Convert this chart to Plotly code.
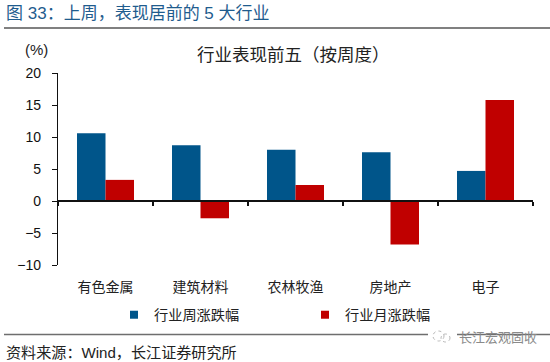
import plotly.graph_objects as go

categories = ["有色金属", "建筑材料", "农林牧渔", "房地产", "电子"]
weekly = [10.6, 8.7, 8.0, 7.6, 4.7]
monthly = [3.3, -2.7, 2.5, -6.8, 15.8]
weekly_name = "行业周涨跌幅"
monthly_name = "行业月涨跌幅"
y_ticks = [-10, -5, 0, 5, 10, 15, 20]
BLUE = "#00558A"
RED = "#C00000"
FONT = "Liberation Sans, Noto Sans CJK SC, sans-serif"
W, H = 550, 362
L, R, T, B = 58, 17, 73, 97

fig = go.Figure()
fig.add_bar(x=categories, y=weekly, name=weekly_name, marker_color=BLUE, marker_line_width=0, showlegend=False)
fig.add_bar(x=categories, y=monthly, name=monthly_name, marker_color=RED, marker_line_width=0, showlegend=False)
for nm, col in ((weekly_name, BLUE), (monthly_name, RED)):
    fig.add_scatter(x=[None], y=[None], mode="markers", name=nm,
                    marker=dict(symbol="square", size=8, color=col))

def px(x):
    return (x - L) / (W - L - R)
def py(y):
    return (H - B - y) / (H - T - B)

def note(text, x, y, size, color="#222222", anchor="left"):
    fig.add_annotation(text=text, xref="paper", yref="paper", x=px(x), y=py(y),
                       xanchor=anchor, yanchor="middle", showarrow=False,
                       font=dict(size=size, color=color, family=FONT))

fig.update_layout(
    width=W, height=H, autosize=False,
    margin=dict(l=L, r=R, t=T, b=B, pad=0),
    paper_bgcolor="white", plot_bgcolor="white",
    barmode="group", bargap=0.4, bargroupgap=0,
    font=dict(family=FONT, size=14, color="#111111"),
    showlegend=True,
    legend=dict(orientation="h", xref="paper", yref="paper", x=px(114), y=py(315),
                xanchor="left", yanchor="middle", font=dict(size=14.2, color="#222222"),
                entrywidth=146, entrywidthmode="pixels", traceorder="normal", bgcolor="rgba(0,0,0,0)"),
    xaxis=dict(type="category", tickson="boundaries", anchor="free", position=1 / 3,
               showline=True, linecolor="#111111", linewidth=1.5, ticks="outside", ticklen=4, tickcolor="#111111",
               tickwidth=1.5, showgrid=False, zeroline=False, ticklabelstandoff=73,
               tickfont=dict(size=14, color="#222222", family=FONT)),
    yaxis=dict(range=[-10, 20], tickvals=y_ticks, ticks="outside", ticklen=5, tickwidth=1, tickcolor="#111111",
               showline=True, linecolor="#111111", linewidth=1.2, showgrid=False, zeroline=False,
               ticklabelstandoff=8, tickfont=dict(size=14, color="#111111", family=FONT)),
)

note("图 33：上周，表现居前的 5 大行业", 4, 13, 17, color="#1F5C8E")
note("行业表现前五（按周度）", 293, 55, 17.5, anchor="center")
note("(%)", 36, 50, 15, color="#222222", anchor="center")
note("资料来源：Wind，长江证券研究所", 4, 352, 15.1)

for y0, color, width in ((28, "#808080", 2), (334.5, "#6E6E6E", 1.5)):
    fig.add_shape(type="line", xref="paper", yref="paper", x0=px(4), x1=px(550),
                  y0=py(y0), y1=py(y0), line=dict(color=color, width=width))

# watermark: white patch over the rule, a small outline icon, and the account name
fig.add_shape(type="rect", xref="paper", yref="paper", x0=px(428), x1=px(457), y0=py(329), y1=py(346),
              fillcolor="white", line_width=0)
fig.add_shape(type="circle", xref="paper", yref="paper", x0=px(433), x1=px(444), y0=py(331), y1=py(341),
              line=dict(color="#B8B8B8", width=1, dash="dot"))
fig.add_shape(type="circle", xref="paper", yref="paper", x0=px(441), x1=px(450), y0=py(334), y1=py(342),
              line=dict(color="#B8B8B8", width=1, dash="dot"))
note("长江宏观固收", 498, 337, 13, color="#8A8A8A", anchor="center")

fig.write_html("out.html", config={"displayModeBar": False},
               post_script="document.body.style.margin='0';document.documentElement.style.overflow='hidden';")
